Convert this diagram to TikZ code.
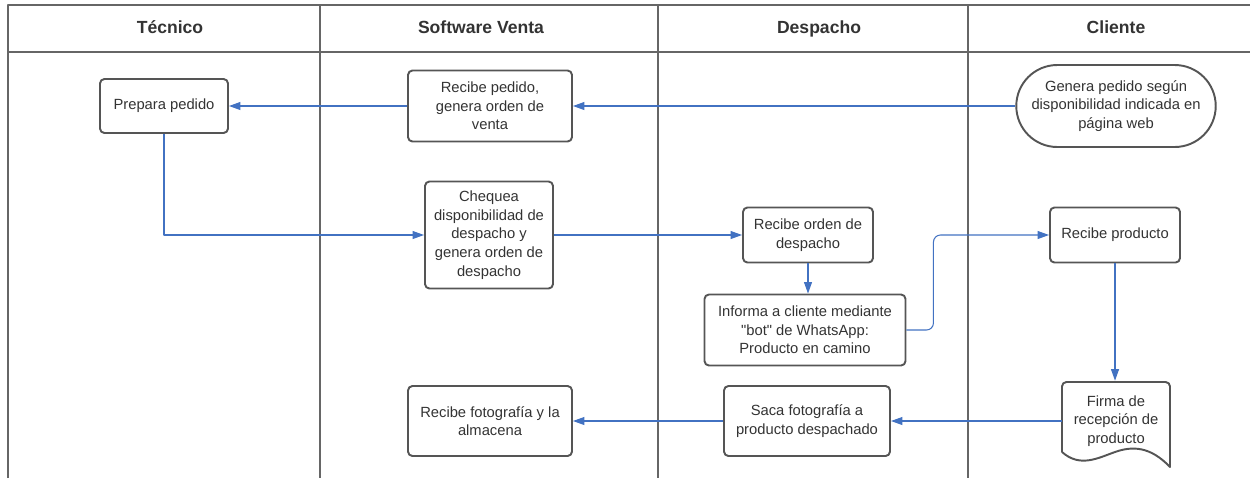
\documentclass[tikz,border=0pt]{standalone}
\usepackage{fontspec}
\newfontfamily\helv{Liberation Sans}
\usetikzlibrary{arrows.meta,shapes.misc}
\definecolor{azul}{HTML}{4272C2}
\definecolor{borde}{HTML}{555555}
\definecolor{texto}{HTML}{333333}
\begin{document}
\begin{tikzpicture}[x=0.02cm, y=-0.02cm, font=\helv\fontsize{8.4}{10.6}\selectfont, line join=round, >={Triangle[length=6.5pt,width=4.5pt]},
	paso/.style={draw=borde, line width=1.1pt, rounded corners=2.5pt, align=center, text=texto, inner sep=1pt},
	titulo/.style={font=\helv\fontsize{10}{12}\selectfont\bfseries, text=texto, text height=1.6ex, text depth=.4ex},
	flecha/.style={->, draw=azul, line width=0.6pt},
	carril/.style={draw=borde!90, line width=1.1pt}]
			\useasboundingbox (0,0) rectangle (1250,478);
			% carriles
			\draw[carril] (8,478) -- (8,5) -- (1250,5) (8,52) -- (1250,52);
			\foreach \x in {320,658,968}\draw[carril] (\x,5) -- (\x,478);
			\node[titulo] (tecnico) at (170,29) {Técnico};
			\node[titulo] (software) at (481,29) {Software Venta};
			\node[titulo] (despacho) at (819,29) {Despacho};
			\node[titulo] (cliente) at (1116,29) {Cliente};
			% pasos
			\node[paso, minimum width=2.56cm, minimum height=1.08cm] (prepara) at (164,106) {Prepara pedido};
			\node[paso, minimum width=3.28cm, minimum height=1.42cm] (recibe) at (490,106) {Recibe pedido,\\genera orden de\\venta};
			\node[paso, rounded rectangle, rounded corners=0pt, minimum width=4.06cm, minimum height=1.64cm] (genera) at (1116,106) {Genera pedido según\\disponibilidad indicada en\\página web};
			\node[paso, minimum width=2.56cm, minimum height=2.14cm] (chequea) at (489,235) {Chequea\\disponibilidad de\\despacho y\\genera orden de\\despacho};
			\node[paso, minimum width=2.6cm, minimum height=1.1cm] (ordendesp) at (808,235) {Recibe orden de\\despacho};
			\node[paso, minimum width=4.02cm, minimum height=1.42cm] (informa) at (805,330) {Informa a cliente mediante\\"bot" de WhatsApp:\\Producto en camino};
			\node[paso, minimum width=2.6cm, minimum height=1.1cm] (producto) at (1115,235) {Recibe producto};
			\node[align=center, text=texto, inner sep=1pt, minimum width=2.16cm, minimum height=1.6cm] (firma) at (1116,421) {Firma de\\recepción de\\producto};
			\draw[borde, line width=1.1pt] (1062,452) [rounded corners=2.5pt] -- (1062,382) -- (1170,382) [sharp corners] -- (1170,467)
				.. controls (1150,446) and (1132,446) .. (1115,452) .. controls (1098,458) and (1080,468) .. (1062,452);
			\node[paso, minimum width=3.32cm, minimum height=1.4cm] (saca) at (807,421) {Saca fotografía a\\producto despachado};
			\node[paso, minimum width=3.28cm, minimum height=1.4cm] (recibefoto) at (490,421) {Recibe fotografía y la\\almacena};
			% conectores
			\draw[flecha] (genera) -- (recibe);
			\draw[flecha] (recibe) -- (prepara);
			\draw[flecha] (prepara.south) |- (chequea.west);
			\draw[flecha] (chequea) -- (ordendesp);
			\draw[flecha] (ordendesp.south) -- (ordendesp.south |- informa.north);
			\draw[flecha, rounded corners=4pt] (informa.east) -- ++(27,0) |- (producto.west);
			\draw[flecha] (producto.south) -- (producto.south |- firma.north);
			\draw[flecha] (firma.west) -- (saca.east);
			\draw[flecha] (saca) -- (recibefoto);
\end{tikzpicture}
\end{document}
